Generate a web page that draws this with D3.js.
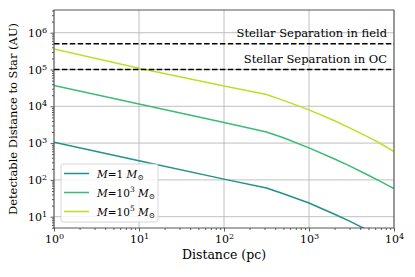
<!DOCTYPE html>
<html>
<head>
<meta charset="utf-8">
<script src="https://cdn.jsdelivr.net/npm/d3@7"></script>
<style>
    body { margin: 0; background: #fff; }
    text { font-family: "DejaVu Serif", serif; fill: #000; }
</style>
</head>
<body>
<div id="chart"></div>
<script>
// distances (pc) where the curves were read
const distances = [1, 10, 100, 316, 500, 1000, 2000, 3000, 5000, 7000, 10000];

// detectable distance (AU) for each mass
const massSun1 = [1050, 330, 105, 60, 42, 23.5, 11.7, 7.6, 4.2, 2.85, 1.8];
const massSun1e3 = [37000, 11500, 3650, 2000, 1400, 740, 370, 240, 134, 90, 58];
const massSun1e5 = [360000, 108000, 35500, 20900, 14500, 8000, 4050, 2600, 1450, 960, 590];

const seriesExp = [0, 3, 5];
const seriesColors = ['#21918c', '#3bbb75', '#bddf26'];

// stellar separations (AU)
const sepLabels = ['Stellar Separation in field', 'Stellar Separation in OC'];
const sepValues = [500000, 100000];

const xTicks = [1, 10, 100, 1000, 10000];
const yTicks = [10, 100, 1000, 10000, 100000, 1000000];

const W = 415, H = 277;
const margin = {top: 10, right: 21, bottom: 49, left: 54};
const width = W - margin.left - margin.right,
    height = H - margin.top - margin.bottom;
const fs = 11.5;

const svg = d3.select('#chart').append('svg')
    .attr('width', W)
    .attr('height', H);

const g = svg.append('g')
    .attr('transform', 'translate(' + margin.left + ',' + margin.top + ')');

const x = d3.scaleLog().domain([1, 10000]).range([0, width]);
const y = d3.scaleLog().domain([4.93, 4.14e6]).range([height, 0]);

function minorTicks(lo, hi, dom) {
    let out = [];
    for (let p = lo; p <= hi; p *= 10) {
        for (let k = 2; k < 10; k++) {
            let v = p * k;
            if (v >= dom[0] && v <= dom[1]) out.push(v);
        }
    }
    return out;
}

// grid
g.append('g').selectAll('line').data(xTicks).enter().append('line')
    .attr('x1', d => x(d)).attr('x2', d => x(d))
    .attr('y1', 0).attr('y2', height)
    .style('stroke', '#b0b0b0').style('stroke-width', 0.8);
g.append('g').selectAll('line').data(yTicks).enter().append('line')
    .attr('y1', d => y(d)).attr('y2', d => y(d))
    .attr('x1', 0).attr('x2', width)
    .style('stroke', '#b0b0b0').style('stroke-width', 0.8);

// clip for curves
svg.append('clipPath').attr('id', 'clip')
    .append('rect').attr('width', width).attr('height', height);

const line = d3.line()
    .x(d => x(d[0]))
    .y(d => y(d[1]));

const allSeries = [massSun1, massSun1e3, massSun1e5];
const plot = g.append('g').attr('clip-path', 'url(#clip)');
allSeries.forEach(function (vals, i) {
    plot.append('path')
        .datum(distances.map((d, j) => [d, vals[j]]))
        .attr('d', line)
        .style('fill', 'none')
        .style('stroke', seriesColors[i])
        .style('stroke-width', 1.5);
});

// stellar separation lines
sepValues.forEach(function (v, i) {
    g.append('line')
        .attr('x1', 0).attr('x2', width)
        .attr('y1', y(v)).attr('y2', y(v))
        .style('stroke', '#000')
        .style('stroke-width', 1.5)
        .style('stroke-dasharray', '5.5,2.4');
    g.append('text')
        .attr('x', width - 7)
        .attr('y', y(v) - 6.5)
        .attr('text-anchor', 'end')
        .style('font-size', fs + 'px')
        .text(sepLabels[i]);
});

// axes
function powerLabel(sel) {
    sel.selectAll('.tick text').each(function (d) {
        const t = d3.select(this);
        t.text(null);
        t.append('tspan').text('10');
        t.append('tspan').attr('dy', '-0.5em').style('font-size', '8px')
            .text(Math.round(Math.log10(d)));
    });
}

const xAxis = g.append('g')
    .attr('transform', 'translate(0,' + height + ')')
    .call(d3.axisBottom(x).tickValues(xTicks).tickSize(3.5).tickPadding(4));
xAxis.call(powerLabel);
g.append('g')
    .attr('transform', 'translate(0,' + height + ')')
    .call(d3.axisBottom(x).tickValues(minorTicks(1, 1000, [1, 10000])).tickSize(2).tickFormat(''));

const yAxis = g.append('g')
    .call(d3.axisLeft(y).tickValues(yTicks).tickSize(3.5).tickPadding(3.5));
yAxis.call(powerLabel);
g.append('g')
    .call(d3.axisLeft(y).tickValues(minorTicks(1, 1e6, y.domain())).tickSize(2).tickFormat(''));

g.selectAll('.domain').remove();
g.selectAll('.tick line').style('stroke', '#333').style('stroke-width', 0.8);
g.selectAll('.tick text').style('font-size', '11px').style('font-family', '"DejaVu Serif", serif');

// frame
g.append('rect')
    .attr('width', width).attr('height', height)
    .style('fill', 'none')
    .style('stroke', '#444')
    .style('stroke-width', 0.9);

// axis titles
svg.append('text')
    .attr('x', margin.left + width / 2)
    .attr('y', 259)
    .attr('text-anchor', 'middle')
    .style('font-size', '12.5px')
    .text('Distance (pc)');

svg.append('text')
    .attr('transform', 'translate(17,' + (margin.top + height / 2) + ') rotate(-90)')
    .attr('text-anchor', 'middle')
    .style('font-size', fs + 'px')
    .text('Detectable Distance to Star (AU)');

// legend
const legend = g.append('g').attr('transform', 'translate(7,' + (height - 64) + ')');
legend.append('rect')
    .attr('width', 97).attr('height', 58)
    .attr('rx', 2)
    .style('fill', 'rgba(255,255,255,0.8)')
    .style('stroke', '#ccc')
    .style('stroke-width', 0.8);

seriesExp.forEach(function (e, i) {
    const yy = 9.5 + i * 19;
    legend.append('line')
        .attr('x1', 3).attr('x2', 28)
        .attr('y1', yy).attr('y2', yy)
        .style('stroke', seriesColors[i])
        .style('stroke-width', 1.5);
    const t = legend.append('text')
        .attr('x', 36).attr('y', yy + 4)
        .style('font-size', '10.5px');
    t.append('tspan').style('font-style', 'italic').text('M');
    t.append('tspan').text('=');
    let back = 0;
    if (e === 0) {
        t.append('tspan').text('1');
    } else {
        t.append('tspan').text('10');
        t.append('tspan').attr('dy', -4.5).style('font-size', '7.5px').text(e);
        back = 4.5;
    }
    t.append('tspan').attr('dy', back).text(' ');
    t.append('tspan').style('font-style', 'italic').text('M');
    t.append('tspan').attr('dy', 2.5).style('font-size', '7.5px').text('\u2299');
});
</script>
</body>
</html>
